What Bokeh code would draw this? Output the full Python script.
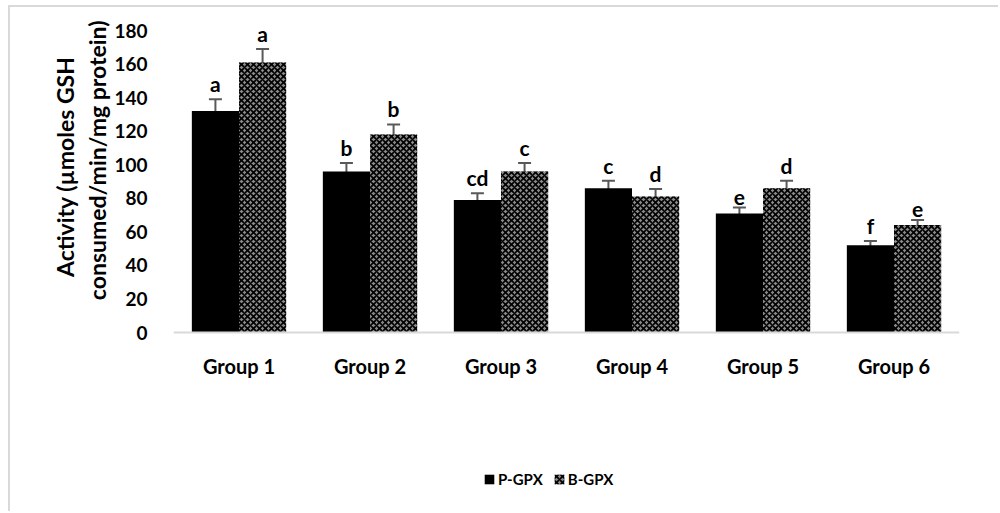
from bokeh.plotting import figure
from bokeh.models import (ColumnDataSource, Whisker, LabelSet, Legend, LegendItem, FactorRange,
                          FixedTicker, Span, Title)
from bokeh.transform import dodge
from bokeh.embed import file_html
from bokeh.resources import INLINE
from bokeh.core.properties import value

groups = ["Group 1", "Group 2", "Group 3", "Group 4", "Group 5", "Group 6"]
p_gpx = [132, 96, 79, 86, 71, 52]
p_err = [7, 5, 4, 4.5, 3.5, 2.5]
p_let = ["a", "b", "cd", "c", "e", "f"]
b_gpx = [161, 118, 96, 81, 86, 64]
b_err = [8, 6, 5, 4.5, 4.5, 3]
b_let = ["a", "b", "c", "d", "d", "e"]
y_ticks = [0, 20, 40, 60, 80, 100, 120, 140, 160, 180]
y_title = ["Activity (µmoles GSH", "consumed/min/mg protein)"]

FONT = "Lato"
GREY = "#d9d9d9"

src = ColumnDataSource(dict(
    g=groups,
    p=p_gpx, pu=[v + e for v, e in zip(p_gpx, p_err)], pl=[v - e for v, e in zip(p_gpx, p_err)], plet=p_let,
    b=b_gpx, bu=[v + e for v, e in zip(b_gpx, b_err)], bl=[v - e for v, e in zip(b_gpx, b_err)], blet=b_let,
))

# frame: 302 px for 0..180, extended downward to hold category labels and legend
y_bottom = -181 * 180 / 302
p = figure(x_range=FactorRange(*groups, range_padding=0), y_range=(y_bottom, 180),
           width=990, height=506, output_backend="svg", toolbar_location=None,
           x_axis_location=None,
           min_border_left=163, min_border_right=41, min_border_top=23, min_border_bottom=0)
p.styles = {"margin-left": "8px", "margin-top": "5px",
            "border-left": f"2px solid {GREY}", "border-top": f"2px solid {GREY}"}
p.outline_line_color = None
p.grid.grid_line_color = None

off = 0.18
w = 0.36
r1 = p.vbar(x=dodge("g", -off, range=p.x_range), top="p", width=w, source=src,
            fill_color="black", line_color=None)
r2 = p.vbar(x=dodge("g", off, range=p.x_range), top="b", width=w, source=src,
            fill_color="#8a8a8a", line_color=None,
            hatch_pattern="diagonal_cross", hatch_color="black", hatch_scale=6, hatch_weight=1.6)

# category axis line at zero
p.add_layout(Span(location=0, dimension="width", line_color=GREY, line_width=2))

# category labels
p.text(x=groups, y=0, text=groups, y_offset=33, text_align="center", text_baseline="middle",
       text_font=value(FONT), text_font_style="bold", text_font_size="20px", text_color="black")

for xs, up, lo in ((-off, "pu", "pl"), (off, "bu", "bl")):
    wk = Whisker(base=dodge("g", xs, range=p.x_range), upper=up, lower=lo, source=src,
                 line_color="#595959", line_width=2)
    for h in (wk.upper_head, wk.lower_head):
        h.size = 13
        h.line_color = "#595959"
        h.line_width = 2
    p.add_layout(wk)

for xs, up, txt in ((-off, "pu", "plet"), (off, "bu", "blet")):
    ls = LabelSet(x=dodge("g", xs, range=p.x_range), y=up, text=txt, source=src,
                  text_align="center", text_baseline="bottom", y_offset=3,
                  text_font=value(FONT), text_font_style="bold", text_font_size="21px",
                  text_color="black")
    p.add_layout(ls)

yax = p.yaxis[0]
yax.ticker = FixedTicker(ticks=y_ticks)
yax.axis_line_color = None
yax.major_tick_line_color = None
yax.minor_tick_line_color = None
yax.major_label_standoff = 20
yax.major_label_text_font = FONT
yax.major_label_text_font_style = "bold"
yax.major_label_text_font_size = "19px"
yax.major_label_text_color = "black"

# two-line value-axis title, aligned so both lines centre on the 0..180 part of the frame
for line, shift in zip(reversed(y_title), (-10, 26)):
    t = Title(text=line, align="right", offset=shift, standoff=2,
              text_font=FONT, text_font_style="bold", text_font_size="23px",
              text_color="black")
    p.add_layout(t, "left")

legend = Legend(items=[LegendItem(label="P-GPX", renderers=[r1]), LegendItem(label="B-GPX", renderers=[r2])],
                orientation="horizontal", location=(310, 25),
                glyph_width=12, glyph_height=12, label_standoff=3, spacing=10, padding=0,
                border_line_color=None, background_fill_alpha=0,
                label_text_font=FONT, label_text_font_style="bold", label_text_font_size="15px",
                label_text_color="black")
p.add_layout(legend, "center")

open("out.html", "w").write(file_html(p, INLINE))
